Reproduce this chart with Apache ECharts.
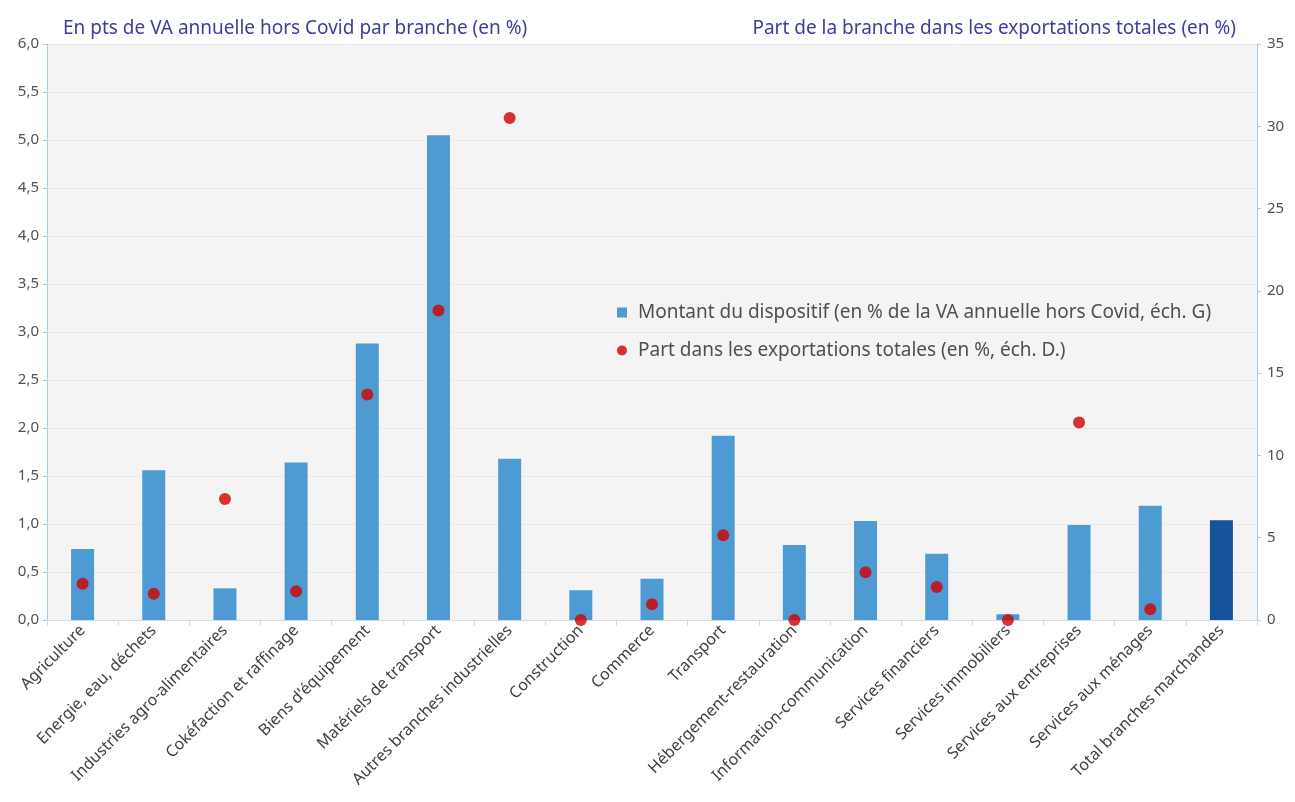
<!DOCTYPE html>
<html>
<head>
<meta charset="utf-8">
<script src="https://cdn.jsdelivr.net/npm/echarts@6/dist/echarts.min.js"></script>
<style>
html,body{margin:0;padding:0;background:#fff;}
#chart{width:1295px;height:802px;}
</style>
</head>
<body>
<div id="chart"></div>
<script>
const categories = ["Agriculture","Energie, eau, déchets","Industries agro-alimentaires","Cokéfaction et raffinage","Biens d'équipement","Matériels de transport","Autres branches industrielles","Construction","Commerce","Transport","Hébergement-restauration","Information-communication","Services financiers","Services immobiliers","Services aux entreprises","Services aux ménages","Total branches marchandes"];
const montant = [0.74,1.56,0.33,1.64,2.88,5.05,1.68,0.31,0.43,1.92,0.78,1.03,0.69,0.06,0.99,1.19,1.04];
const partExport = [2.2,1.6,7.35,1.75,13.7,18.8,30.5,0,0.95,5.15,0,2.9,2.0,0,12.0,0.65,null];
const leftTitle = "En pts de VA annuelle hors Covid par branche (en %)";
const rightTitle = "Part de la branche dans les exportations totales (en %)";
const seriesNames = ["Montant du dispositif (en % de la VA annuelle hors Covid, éch. G)","Part dans les exportations totales (en %, éch. D.)"];

const font = "'Noto Sans', 'Open Sans', sans-serif";
const chart = echarts.init(document.getElementById('chart'));
const barData = montant.map((v,i)=> i===montant.length-1 ? {value:v,itemStyle:{color:'#15539c'}} : v);
chart.setOption({
  backgroundColor:'#ffffff',
  animation:false,
  title:[
    {text:leftTitle,left:58,top:14,textStyle:{color:'#3e3e9c',fontSize:19,fontWeight:'normal',fontFamily:font}},
    {text:rightTitle,right:54,top:14,textStyle:{color:'#3e3e9c',fontSize:19,fontWeight:'normal',fontFamily:font}}
  ],
  grid:{left:47,right:38,top:44,bottom:182,show:true,backgroundColor:'#f4f4f4',borderWidth:0},
  legend:{
    orient:'vertical',left:612,top:298,itemGap:19,itemWidth:10,itemHeight:10,
    textStyle:{color:'#505050',fontSize:19,fontFamily:font,padding:[0,0,0,6]},
    data:[{name:seriesNames[0],icon:'rect'},{name:seriesNames[1],icon:'circle'}]
  },
  xAxis:{
    type:'category',data:categories,
    axisLine:{lineStyle:{color:'#d8d8d8'}},
    axisTick:{show:true,length:6,lineStyle:{color:'#d8d8d8'}},
    axisLabel:{rotate:45,interval:0,color:'#404040',fontSize:16,fontFamily:font,margin:8}
  },
  yAxis:[
    {type:'value',min:0,max:6,interval:0.5,position:'left',
     axisLine:{show:true,lineStyle:{color:'#a9c9ea'}},
     axisTick:{show:true,length:4,lineStyle:{color:'#a9c9ea'}},
     axisLabel:{color:'#505050',fontSize:15,fontFamily:font,margin:8,formatter:v=>v.toFixed(1).replace('.',',')},
     splitLine:{show:true,lineStyle:{color:'#e8e8e8'}}},
    {type:'value',min:0,max:35,interval:5,position:'right',
     axisLine:{show:true,lineStyle:{color:'#a9c9ea'}},
     axisTick:{show:true,length:4,lineStyle:{color:'#a9c9ea'}},
     axisLabel:{color:'#505050',fontSize:15,fontFamily:font,margin:10},
     splitLine:{show:false}}
  ],
  series:[
    {name:seriesNames[0],type:'bar',yAxisIndex:0,data:barData,barWidth:23,itemStyle:{color:'#4e9ad2'}},
    {name:seriesNames[1],type:'scatter',yAxisIndex:1,data:partExport,symbolSize:12,itemStyle:{color:'#d20000'},z:5}
  ]
});
</script>
</body>
</html>
